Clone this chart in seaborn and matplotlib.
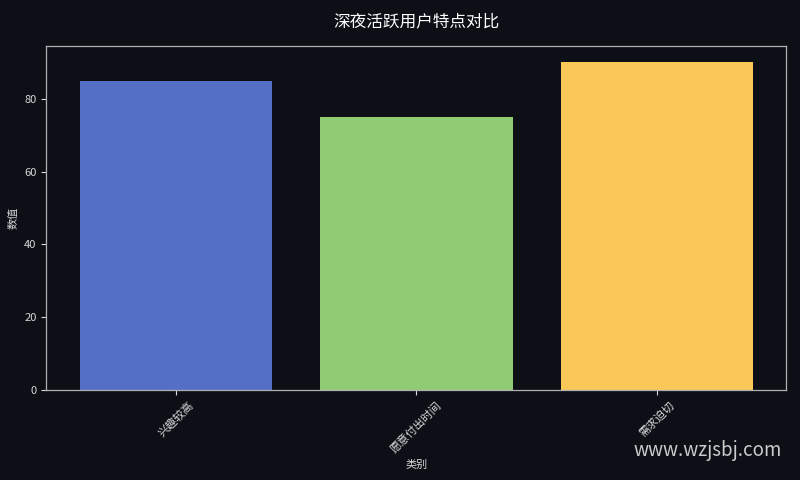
import matplotlib
matplotlib.use('Agg')
import matplotlib.pyplot as plt
import seaborn as sns
import pandas as pd

# Data
categories = ['兴趣较高', '愿意付出时间', '需求迫切']
values = [85, 75, 90]
colors = ['#5470c6', '#91cc75', '#fac858']

bg = '#0c0f16'
fg = '#d8d8d8'

sns.set_style('dark')
plt.rcParams['font.family'] = ['Noto Sans CJK SC', 'DejaVu Sans']
plt.rcParams['axes.unicode_minus'] = False

df = pd.DataFrame({'类别': categories, '数值': values})

fig, ax = plt.subplots(figsize=(8, 4.8), dpi=100)
fig.patch.set_facecolor(bg)
ax.set_facecolor(bg)

sns.barplot(data=df, x='类别', y='数值', hue='类别', palette=colors,
            saturation=1, width=0.8, legend=False, ax=ax,
            edgecolor='none', linewidth=0)

ax.set_title('深夜活跃用户特点对比', fontsize=12, color='white', pad=14)
ax.set_xlabel('类别', fontsize=8, color=fg)
ax.set_ylabel('数值', fontsize=8, color=fg)
ax.tick_params(axis='both', colors=fg, labelsize=8, length=3.5, width=0.8, bottom=True, left=True)
plt.setp(ax.get_xticklabels(), rotation=45)
for s in ax.spines.values():
    s.set_color('#b0b0b0')
    s.set_linewidth(0.9)
ax.grid(False)
ax.set_xlim(-0.54, 2.54)
ax.set_ylim(0, 94.5)

fig.subplots_adjust(left=0.058, right=0.983, top=0.904, bottom=0.188)
fig.text(0.977, 0.04, 'www.wzjsbj.com', ha='right', va='bottom',
         fontsize=13.5, color='#e0e0e0', alpha=0.9)

plt.savefig('out.png', dpi=100, facecolor=bg)
